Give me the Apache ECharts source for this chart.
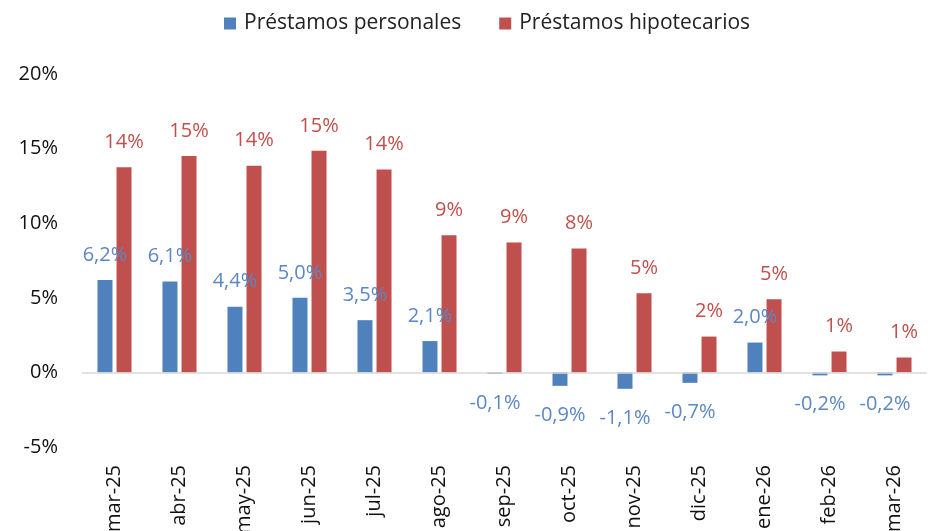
<!DOCTYPE html>
<html>
<head>
<meta charset="utf-8">
<script src="https://cdn.jsdelivr.net/npm/echarts@6/dist/echarts.min.js"></script>
<style>html,body{margin:0;padding:0;background:#fff}#c{width:930px;height:531px}</style>
</head>
<body>
<div id="c"></div>
<script>
const categories = ['mar-25','abr-25','may-25','jun-25','jul-25','ago-25','sep-25','oct-25','nov-25','dic-25','ene-26','feb-26','mar-26'];
const personales = [6.2, 6.1, 4.4, 5.0, 3.5, 2.1, -0.1, -0.9, -1.1, -0.7, 2.0, -0.2, -0.2];
const hipotecarios = [13.75, 14.5, 13.85, 14.85, 13.6, 9.2, 8.7, 8.3, 5.3, 2.4, 4.9, 1.4, 1.0];
const seriesNames = ['Préstamos personales', 'Préstamos hipotecarios'];
const yTicks = [-5, 0, 5, 10, 15, 20];

const FONT = 'Open Sans';
const BLUE = '#4F81BD', RED = '#C0504D';

function items(arr) {
  return arr.map(v => ({
    value: v,
    label: v < 0 ? { position: 'bottom', distance: 19 } : { position: 'top', distance: 15 }
  }));
}

const chart = echarts.init(document.getElementById('c'), null, { renderer: 'canvas' });
chart.setOption({
  animation: false,
  textStyle: { fontFamily: FONT },
  legend: {
    data: seriesNames,
    left: 219, top: 8,
    itemWidth: 12, itemHeight: 12, itemGap: 38,
    icon: 'rect',
    textStyle: { fontFamily: FONT, fontSize: 21, color: '#222', padding: [0, 0, 0, 3] }
  },
  grid: { left: 82, right: 3, top: 74, bottom: 84, containLabel: false, outerBoundsMode: 'none' },
  xAxis: {
    type: 'category',
    data: categories,
    axisLine: { show: false },
    axisTick: { show: false },
    axisLabel: { rotate: 90, margin: 18, fontFamily: FONT, fontSize: 20, color: '#111', interval: 0 }
  },
  yAxis: {
    type: 'value',
    min: yTicks[0], max: yTicks[yTicks.length - 1], interval: 5,
    axisLine: { show: false }, axisTick: { show: false },
    splitLine: { show: false },
    axisLabel: { margin: 24, fontFamily: FONT, fontSize: 20, color: '#111', formatter: v => v + '%' }
  },
  series: [
    {
      name: seriesNames[0], type: 'bar', barWidth: 15, barGap: '27%',
      itemStyle: { color: BLUE },
      data: items(personales),
      label: {
        show: true, fontFamily: FONT, fontSize: 20, color: '#5B87C4',
        formatter: p => p.value.toFixed(1).replace('.', ',') + '%'
      },
      markLine: {
        silent: true, symbol: 'none', label: { show: false },
        lineStyle: { color: '#D9D9D9', width: 1.5, type: 'solid' },
        data: [{ yAxis: 0 }]
      }
    },
    {
      name: seriesNames[1], type: 'bar', barWidth: 15,
      itemStyle: { color: RED },
      data: items(hipotecarios),
      label: {
        show: true, fontFamily: FONT, fontSize: 20, color: RED,
        formatter: p => Math.round(p.value) + '%'
      }
    }
  ]
});
</script>
</body>
</html>
